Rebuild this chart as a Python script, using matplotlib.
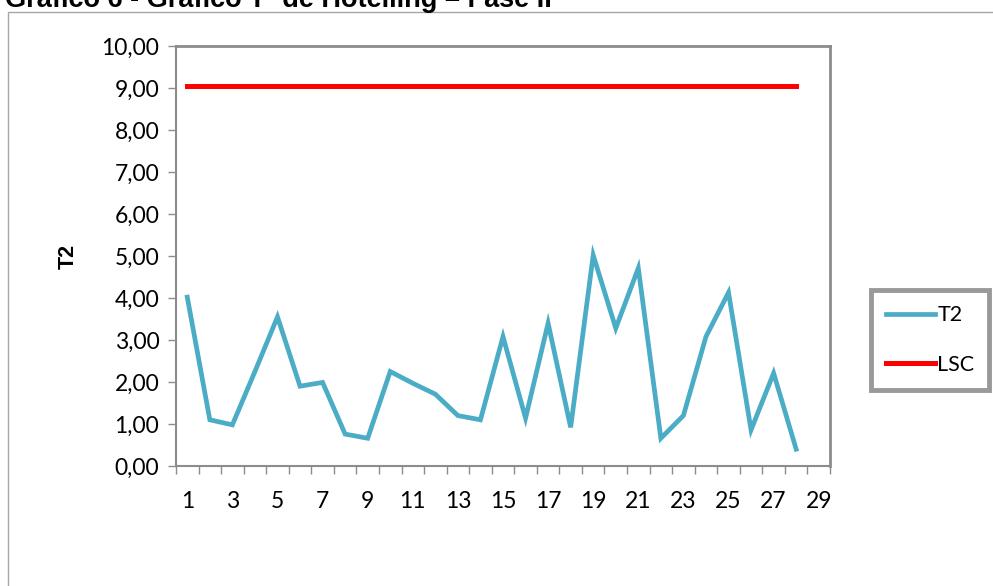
import numpy as np
import matplotlib.pyplot as plt
from matplotlib.patches import Rectangle
from matplotlib.ticker import FuncFormatter

# dados
amostra = list(range(1, 29))
t2 = [4.02, 1.10, 0.98, 2.25, 3.55, 1.90, 1.99, 0.76, 0.66, 2.25,
      1.97, 1.71, 1.20, 1.10, 3.08, 1.14, 3.40, 0.92, 5.02, 3.28,
      4.71, 0.66, 1.20, 3.08, 4.13, 0.86, 2.21, 0.40]
lsc = [9.05] * len(amostra)
x_labels = list(range(1, 30, 2))

plt.rcParams['font.family'] = ['Lato', 'DejaVu Sans']

W, H = 993, 586
fig = plt.figure(figsize=(W / 100, H / 100), dpi=100)

# titulo cortado no topo (como no original)
fig.text(5 / W, 1 - 7 / H, 'Gráfico 6 - Gráfico T² de Hotelling – Fase II',
         family='Liberation Sans', weight='bold', fontsize=19.5, va='baseline', ha='left')

# borda da area do grafico
fig.patches.append(Rectangle((8 / W, -0.1), 1.2, 1 - 12 / H + 0.1, transform=fig.transFigure,
                             fill=False, edgecolor='#a6a6a6', linewidth=1))

ax = fig.add_axes([176 / W, 1 - 466 / H, (830 - 176) / W, (466 - 46) / H])

ax.plot(amostra, t2, color='#4bacc6', linewidth=3.4, label='T2', solid_joinstyle='miter')
ax.plot(amostra, lsc, color='#ff0000', linewidth=3.6, label='LSC')

ax.set_xlim(0.5, 29.5)
ax.set_ylim(0, 10)
ax.set_yticks(np.arange(0, 11, 1))
ax.yaxis.set_major_formatter(FuncFormatter(lambda v, p: f'{v:.2f}'.replace('.', ',')))
ax.set_xticks(x_labels)
ax.set_xticks(np.arange(0.5, 30, 1), minor=True)
ax.tick_params(axis='x', which='major', length=0, pad=18, labelsize=16.5)
ax.tick_params(axis='x', which='minor', length=6, color='#8c8c8c', width=1)
ax.tick_params(axis='y', length=6, color='#8c8c8c', width=1, labelsize=16.5, pad=6)

for s in ['left', 'bottom']:
    ax.spines[s].set_color('#8c8c8c')
    ax.spines[s].set_linewidth(1.5)
for s in ['top', 'right']:
    ax.spines[s].set_color('#8c8c8c')
    ax.spines[s].set_linewidth(2)

ax.set_ylabel('T2', family='Liberation Sans', weight='bold', fontsize=15.5, labelpad=16)

leg = ax.legend(loc='center', bbox_to_anchor=(930 / W, 1 - 340 / H), bbox_transform=fig.transFigure,
                frameon=True, fancybox=False, fontsize=15.5, handlelength=2.3, handletextpad=0.1,
                labelspacing=1.35, borderpad=0.7, borderaxespad=0)
leg.get_frame().set_edgecolor('#808080')
leg.get_frame().set_linewidth(3.5)

fig.savefig('out.png', dpi=100)
